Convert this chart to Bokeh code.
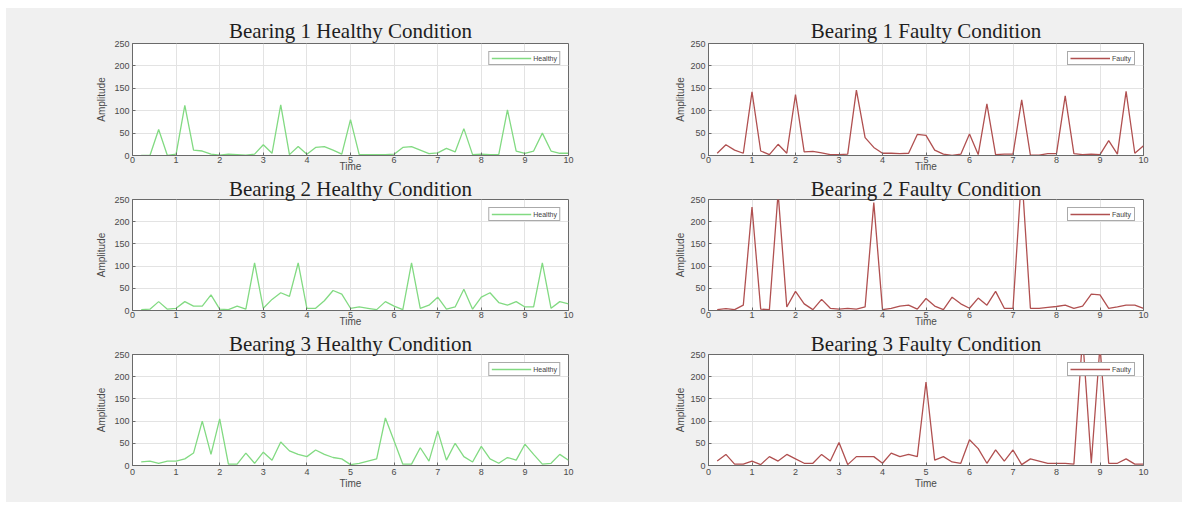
from bokeh.plotting import figure
from bokeh.layouts import row, column
from bokeh.models import FixedTicker, Range1d
from bokeh.embed import file_html
from bokeh.resources import INLINE

time = [0.2, 0.4, 0.6, 0.8, 1.0, 1.2, 1.4, 1.6, 1.8, 2.0,
        2.2, 2.4, 2.6, 2.8, 3.0, 3.2, 3.4, 3.6, 3.8, 4.0,
        4.2, 4.4, 4.6, 4.8, 5.0, 5.2, 5.4, 5.6, 5.8, 6.0,
        6.2, 6.4, 6.6, 6.8, 7.0, 7.2, 7.4, 7.6, 7.8, 8.0,
        8.2, 8.4, 8.6, 8.8, 9.0, 9.2, 9.4, 9.6, 9.8, 10.0]

bearing1_healthy = [0, 0, 58, 0, 3, 112, 12, 10, 3, 1,
                    3, 2, 1, 3, 24, 5, 113, 2, 20, 3,
                    18, 20, 12, 3, 80, 2, 2, 2, 2, 3,
                    18, 20, 12, 4, 6, 16, 8, 60, 2, 3,
                    2, 2, 102, 10, 5, 10, 50, 10, 5, 5]
bearing1_faulty = [5, 24, 12, 5, 142, 10, 2, 25, 5, 136,
                   8, 9, 6, 2, 2, 3, 146, 40, 18, 5,
                   5, 4, 5, 47, 45, 12, 3, 0, 3, 48,
                   2, 115, 2, 3, 3, 124, 1, 1, 4, 4,
                   133, 4, 2, 3, 2, 33, 3, 143, 5, 22]
bearing2_healthy = [2, 3, 20, 3, 5, 20, 10, 10, 35, 3,
                    2, 10, 3, 107, 5, 25, 40, 32, 107, 5,
                    5, 22, 45, 37, 5, 8, 5, 2, 20, 10,
                    2, 107, 5, 12, 30, 3, 8, 48, 3, 30,
                    40, 18, 12, 20, 8, 8, 107, 5, 20, 15]
bearing2_faulty = [2, 4, 2, 12, 233, 3, 2, 265, 8, 43,
                   15, 2, 25, 5, 3, 5, 3, 8, 243, 2,
                   5, 10, 12, 3, 27, 10, 2, 30, 15, 5,
                   28, 12, 43, 5, 5, 310, 5, 5, 7, 9,
                   12, 5, 10, 37, 35, 5, 8, 12, 12, 5]
bearing3_healthy = [8, 10, 5, 10, 10, 15, 28, 100, 25, 105,
                    3, 3, 28, 5, 30, 12, 53, 33, 25, 20,
                    35, 25, 18, 15, 2, 5, 10, 15, 107, 55,
                    3, 3, 40, 10, 78, 12, 50, 20, 8, 43,
                    15, 5, 18, 12, 48, 25, 3, 5, 25, 12]
bearing3_faulty = [10, 25, 3, 3, 10, 2, 20, 10, 25, 15,
                   5, 5, 25, 10, 52, 2, 20, 20, 20, 5,
                   28, 20, 25, 20, 188, 12, 20, 8, 5, 58,
                   38, 5, 35, 10, 35, 2, 15, 10, 5, 5,
                   5, 3, 290, 5, 270, 5, 5, 15, 3, 3]

titles = ["Bearing 1 Healthy Condition", "Bearing 1 Faulty Condition",
          "Bearing 2 Healthy Condition", "Bearing 2 Faulty Condition",
          "Bearing 3 Healthy Condition", "Bearing 3 Faulty Condition"]
x_ticks = [0, 1, 2, 3, 4, 5, 6, 7, 8, 9, 10]
y_ticks = [0, 50, 100, 150, 200, 250]

GREEN = "#82da82"
RED = "#b05050"
BG = "#f0f0f0"
AX = "#6a6a6a"


def make(title, values, color, label, col, rw):
    if col == 0:
        width, left, right = 594, 126, 32
    else:
        width, left, right = 582, 108, 39
    if rw == 0:
        height, top, bottom = 168, 35, 21
    elif rw == 1:
        height, top, bottom = 155, 22, 21
    else:
        height, top, bottom = 171, 22, 37
    p = figure(width=width, height=height, title=title,
               x_range=Range1d(0, 10), y_range=Range1d(0, 250),
               output_backend="svg", toolbar_location=None,
               min_border_left=left, min_border_right=right,
               min_border_top=top, min_border_bottom=bottom)
    p.background_fill_color = "white"
    p.border_fill_color = BG
    p.outline_line_color = AX
    p.outline_line_width = 1
    p.title.text_font = "Liberation Serif"
    p.title.text_font_size = "21px"
    p.title.text_font_style = "normal"
    p.title.text_color = "#1e1e1e"
    p.title.align = "center"
    p.title.standoff = 2 if rw == 0 else -3

    p.line(time, values, line_color=color, line_width=1.3, legend_label=label)

    for ax in (p.xaxis[0], p.yaxis[0]):
        ax.axis_line_color = AX
        ax.major_tick_line_color = AX
        ax.major_tick_in = 3
        ax.major_tick_out = 0
        ax.minor_tick_line_color = None
        ax.major_label_text_font = "Liberation Sans"
        ax.major_label_text_font_size = "9px"
        ax.major_label_text_color = "#4a4a4a"
        ax.axis_label_text_font = "Liberation Sans"
        ax.axis_label_text_font_size = "10px"
        ax.axis_label_text_font_style = "normal"
        ax.axis_label_text_color = "#4a4a4a"
    p.xaxis.ticker = FixedTicker(ticks=x_ticks)
    p.yaxis.ticker = FixedTicker(ticks=y_ticks)
    p.xaxis.axis_label = "Time"
    p.yaxis.axis_label = "Amplitude"
    if rw < 2:
        p.xaxis.major_label_standoff = 1
        p.xaxis.axis_label_standoff = -5
    else:
        p.xaxis.major_label_standoff = 3
        p.xaxis.axis_label_standoff = 0
    p.yaxis.major_label_standoff = 3
    p.yaxis.axis_label_standoff = 4 if col == 0 else 1

    p.xgrid.ticker = FixedTicker(ticks=x_ticks)
    p.ygrid.ticker = FixedTicker(ticks=y_ticks)
    p.xgrid.grid_line_color = "#e3e3e3"
    p.ygrid.grid_line_color = "#e3e3e3"

    lg = p.legend[0]
    lg.location = "top_right"
    lg.margin = 8
    lg.padding = 2
    lg.spacing = 0
    lg.glyph_width = 40
    lg.glyph_height = 8
    lg.label_height = 8
    lg.label_standoff = 2
    lg.label_text_font = "Liberation Sans"
    lg.label_text_font_size = "7px"
    lg.label_text_color = "#444444"
    lg.border_line_color = "#555555"
    lg.border_line_width = 1
    lg.background_fill_color = "white"
    lg.background_fill_alpha = 1.0
    return p


series = [bearing1_healthy, bearing1_faulty, bearing2_healthy,
          bearing2_faulty, bearing3_healthy, bearing3_faulty]
figs = []
for i, vals in enumerate(series):
    col = i % 2
    rw = i // 2
    color = GREEN if col == 0 else RED
    label = "Healthy" if col == 0 else "Faulty"
    figs.append(make(titles[i], vals, color, label, col, rw))

bgstyle = {"background-color": BG}
rows = [row(figs[0], figs[1], styles=bgstyle),
        row(figs[2], figs[3], styles=bgstyle),
        row(figs[4], figs[5], styles=bgstyle)]
layout = column(*rows, styles=bgstyle, margin=(8, 0, 0, 6))
open("out.html", "w").write(file_html(layout, INLINE))
